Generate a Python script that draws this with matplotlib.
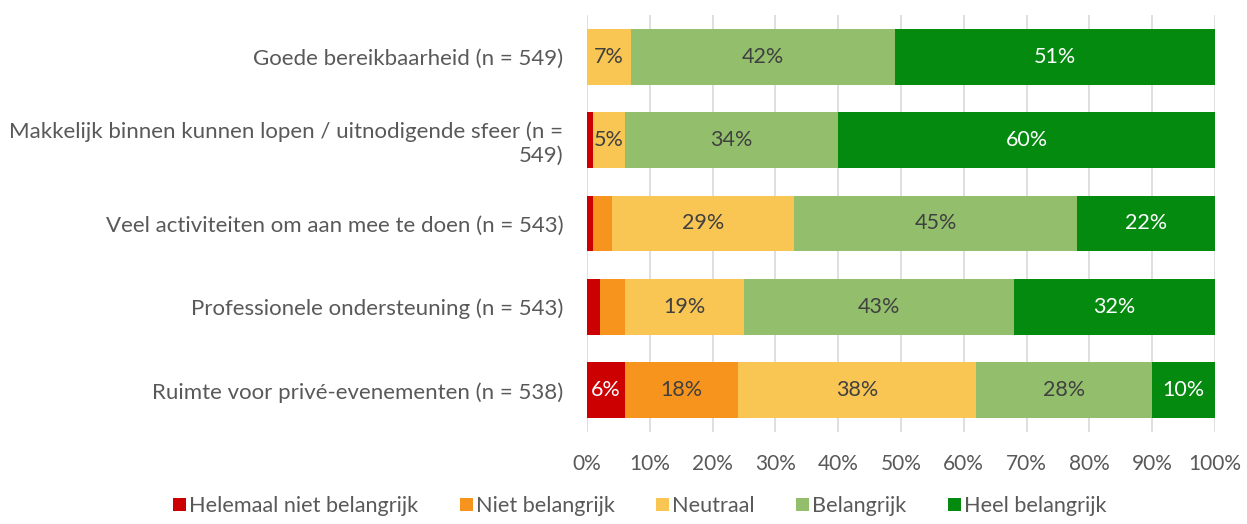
import numpy as np
import matplotlib.pyplot as plt

plt.rcParams['font.family'] = ['Lato', 'DejaVu Sans']

# categories, top to bottom
categories = [
    "Goede bereikbaarheid (n = 549)",
    "Makkelijk binnen kunnen lopen / uitnodigende sfeer (n =\n549)",
    "Veel activiteiten om aan mee te doen (n = 543)",
    "Professionele ondersteuning (n = 543)",
    "Ruimte voor privé-evenementen (n = 538)",
]
series_names = ["Helemaal niet belangrijk", "Niet belangrijk", "Neutraal",
                "Belangrijk", "Heel belangrijk"]
helemaal_niet = [0, 1, 1, 2, 6]
niet = [0, 0, 3, 4, 18]
neutraal = [7, 5, 29, 19, 38]
belangrijk = [42, 34, 45, 43, 28]
heel = [51, 60, 22, 32, 10]

colors = ["#CC0000", "#F7941E", "#F9C553", "#93BF6D", "#058A10"]
label_colors = ["white", "#404040", "#404040", "#404040", "white"]

fig = plt.figure(figsize=(12.47, 5.24), dpi=100)
ax = fig.add_axes([0.4707, 0.1756, 0.5036, 0.7958])

y = np.arange(len(categories))
left = np.zeros(len(categories))
for name, vals, c, lc in zip(series_names,
                             [helemaal_niet, niet, neutraal, belangrijk, heel],
                             colors, label_colors):
    vals = np.array(vals, dtype=float)
    ax.barh(y, vals, left=left, height=0.67, color=c, label=name, zorder=2)
    for yi, l, v in zip(y, left, vals):
        if v >= 5:
            ax.text(l + v / 2, yi, f"{int(v)}%", ha="center", va="center",
                    fontsize=15.5, color=lc, zorder=3)
    left += vals

ax.set_xlim(0, 100)
ax.set_ylim(4.5, -0.5)
ax.set_xticks(np.arange(0, 101, 10))
ax.set_xticklabels([f"{t}%" for t in range(0, 101, 10)], fontsize=15, color="#595959")
ax.set_yticks(y)
ax.set_yticklabels(categories, fontsize=16, color="#595959")
ax.tick_params(length=0)
ax.tick_params(axis="y", pad=17)
ax.tick_params(axis="x", pad=16)
ax.grid(axis="x", color="#D9D9D9", lw=1.2, zorder=0)
for s in ax.spines.values():
    s.set_visible(False)

fig.legend(loc="lower center", ncol=5, bbox_to_anchor=(0.513, -0.022),
           frameon=False, fontsize=15.6, handlelength=0.6, handleheight=0.6,
           handletextpad=0.15, columnspacing=1.9, labelcolor="#595959")

fig.savefig("out.png", dpi=100)
